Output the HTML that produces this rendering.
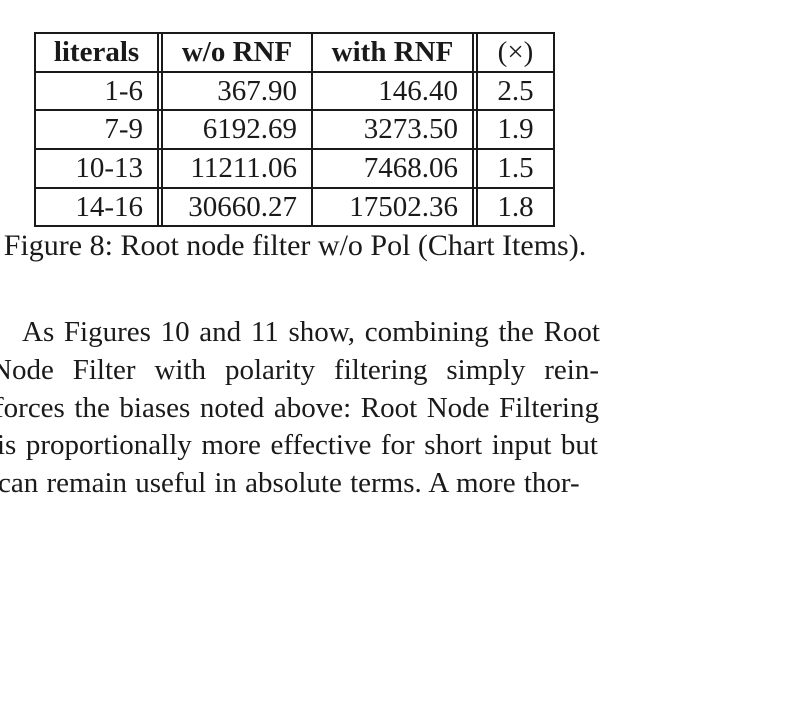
<!DOCTYPE html>
<html><head><meta charset="utf-8"><style>
body{margin:0;width:792px;height:711px;background:#fff;overflow:hidden;position:relative;font-family:"Liberation Serif",serif;color:#1a1a1a}
.l{position:absolute;background:#1a1a1a}
.c{position:absolute;font-size:29px;line-height:38px;height:38px;white-space:nowrap}
.p{position:absolute;font-size:29px;line-height:38px;white-space:nowrap}
.j{text-align:justify;text-align-last:justify;white-space:normal}
</style></head><body>
<div>
<div class="l" style="left:34px;top:32px;width:521px;height:2px"></div>
<div class="l" style="left:34px;top:71px;width:521px;height:2px"></div>
<div class="l" style="left:34px;top:109px;width:521px;height:2px"></div>
<div class="l" style="left:34px;top:148px;width:521px;height:2px"></div>
<div class="l" style="left:34px;top:187px;width:521px;height:2px"></div>
<div class="l" style="left:34px;top:225px;width:521px;height:2px"></div>
<div class="l" style="left:34px;top:32px;width:2px;height:195px"></div>
<div class="l" style="left:157px;top:32px;width:2px;height:195px"></div>
<div class="l" style="left:161px;top:32px;width:2px;height:195px"></div>
<div class="l" style="left:311px;top:32px;width:2px;height:195px"></div>
<div class="l" style="left:472px;top:32px;width:2px;height:195px"></div>
<div class="l" style="left:476px;top:32px;width:2px;height:195px"></div>
<div class="l" style="left:553px;top:32px;width:2px;height:195px"></div>
<div id="cells"></div>
</div>
<div class="p" style="left:0;width:590px;top:227px;text-align:center;font-size:30px">Figure 8: Root node filter w/o Pol (Chart Items).</div>
<div>
<div class="p j" style="left:22px;width:578px;top:313px">As Figures 10 and 11 show, combining the Root</div>
<div class="p j" style="left:-9px;width:608px;top:351px">Node Filter with polarity filtering simply rein-</div>
<div class="p j" style="left:-6px;width:605px;top:389px">forces the biases noted above: Root Node Filtering</div>
<div class="p j" style="left:-3px;width:601px;top:426px">is proportionally more effective for short input but</div>
<div class="p" style="left:-2px;top:464px;word-spacing:1px">can remain useful in absolute terms. A more thor-</div>
</div>
<script>
const headers=["literals","w/o RNF","with RNF","(×)"];
const literals=["1-6","7-9","10-13","14-16"];
const woRNF=["367.90","6192.69","11211.06","30660.27"];
const withRNF=["146.40","3273.50","7468.06","17502.36"];
const ratio=["2.5","1.9","1.5","1.8"];
const cols=[[36,157],[163,311],[313,472],[478,553]];
const host=document.getElementById('cells');
function cell(txt,ci,top,bold,align){
  const d=document.createElement('div');
  d.className='c';
  d.textContent=txt;
  d.style.left=cols[ci][0]+'px';
  d.style.width=(cols[ci][1]-cols[ci][0]-(align==='right'?14:0))+'px';
  d.style.top=top+'px';
  d.style.textAlign=align;
  if(bold)d.style.fontWeight='bold';
  
  
  host.appendChild(d);
}
headers.forEach((h,i)=>cell(h,i,33,i<3,'center'));
const rowTops=[72,110,149,188];
literals.forEach((v,r)=>{
  cell(v,0,rowTops[r],false,'right');
  cell(woRNF[r],1,rowTops[r],false,'right');
  cell(withRNF[r],2,rowTops[r],false,'right');
  cell(ratio[r],3,rowTops[r],false,'center');
});
</script>
</body></html>
